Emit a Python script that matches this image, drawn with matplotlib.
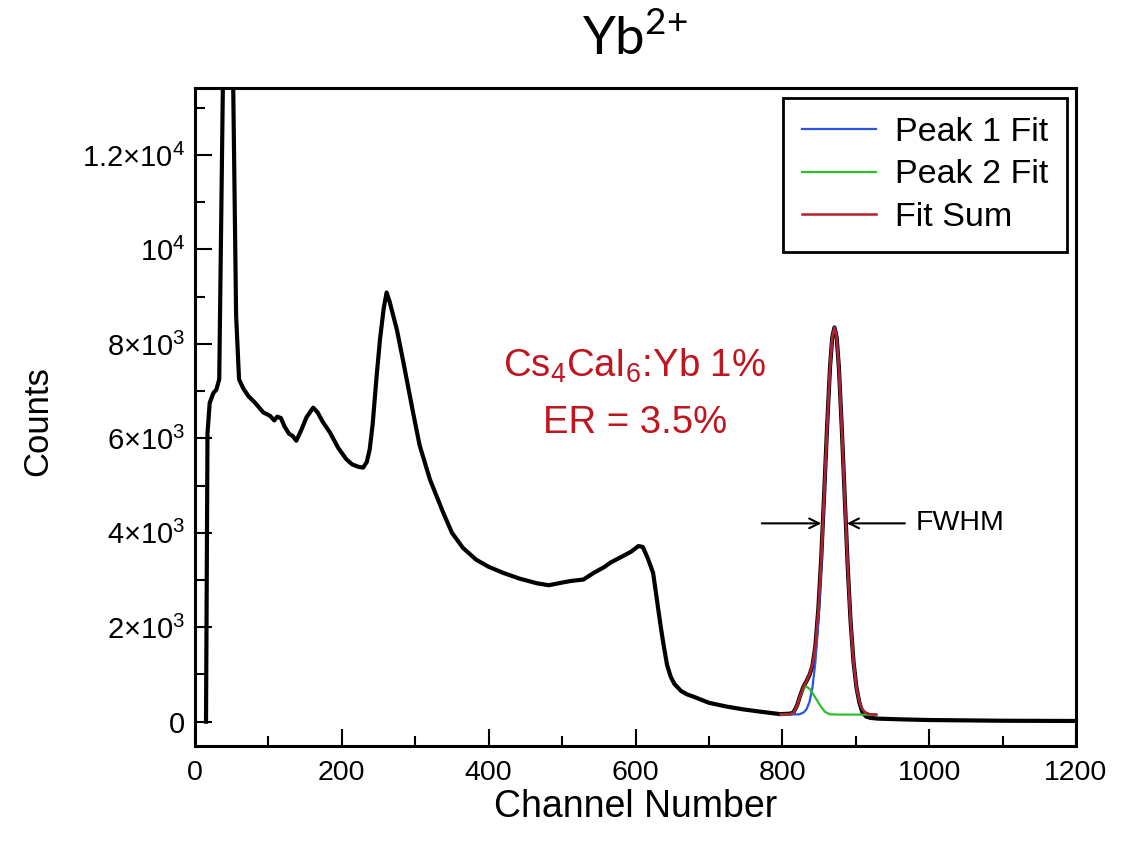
import matplotlib
matplotlib.use("Agg")
import matplotlib.pyplot as plt
from matplotlib.ticker import MultipleLocator

spec_ch = [15, 16, 17, 20, 25, 29, 33, 38, 45, 52, 56, 60, 66, 73, 82, 93, 102, 108,
           112, 117, 122, 128, 133, 138, 144, 152, 161, 167, 174, 184, 195, 206, 214,
           222, 229, 234, 238, 242, 247, 252, 257, 261, 265, 270, 275, 284, 297, 306,
           320, 338, 350, 365, 383, 400, 420, 442, 466, 482, 498, 512, 529, 543, 558,
           566, 582, 594, 604, 610, 617, 624, 629, 634, 638, 643, 648, 653, 662, 670,
           679, 700, 724, 747, 770, 797, 810, 815, 820, 824, 829, 833, 837, 841, 845,
           849, 853, 857, 861, 865, 868, 871, 874, 877, 881, 885, 889, 893, 897, 901,
           905, 909, 914, 920, 930, 960, 1000, 1100, 1200]
spec_counts = [0, 3000, 6100, 6750, 6960, 7030, 7250, 13500, 20000, 13500, 8600, 7250,
               7050, 6890, 6750, 6550, 6480, 6380, 6460, 6430, 6250, 6100, 6050, 5950,
               6150, 6450, 6650, 6550, 6350, 6120, 5800, 5560, 5450, 5400, 5380, 5500,
               5770, 6300, 7250, 8100, 8750, 9090, 8900, 8600, 8300, 7600, 6550, 5850,
               5130, 4430, 4000, 3680, 3430, 3280, 3150, 3030, 2930, 2890, 2940, 2980,
               3010, 3150, 3280, 3370, 3500, 3600, 3720, 3700, 3450, 3150, 2600, 2050,
               1650, 1200, 950, 800, 650, 580, 530, 400, 320, 260, 212, 160, 170, 190,
               340, 540, 750, 860, 990, 1180, 1600, 2380, 3470, 4840, 6260, 7520, 8140,
               8350, 8140, 7510, 6210, 4750, 3300, 2110, 1260, 720, 400, 200, 110, 80,
               65, 50, 35, 20, 15]

# fit curves
p1_ch = [798, 823, 829, 833, 837, 841, 845, 849, 853, 857, 861, 865, 868, 871, 874,
         877, 881, 885, 889, 893, 897, 901, 905, 909, 913, 919, 928]
p1_counts = [150, 155, 195, 265, 420, 720, 1260, 2110, 3300, 4750, 6210, 7510, 8140,
             8350, 8140, 7510, 6210, 4750, 3300, 2110, 1260, 720, 420, 265, 195, 158, 150]

p2_ch = [798, 810, 815, 820, 824, 829, 833, 838, 843, 847, 852, 858, 865, 880, 905, 928]
p2_counts = [150, 160, 180, 330, 530, 700, 745, 680, 560, 460, 330, 210, 155, 150,
             150, 150]

sum_ch = [798, 810, 815, 820, 824, 829, 833, 837, 841, 845, 849, 853, 857, 861, 865,
          868, 871, 874, 877, 881, 885, 889, 893, 897, 901, 905, 909, 913, 919, 928]
sum_counts = [150, 160, 185, 335, 535, 745, 860, 1000, 1200, 1600, 2380, 3470, 4840,
              6260, 7515, 8140, 8350, 8140, 7510, 6210, 4750, 3300, 2110, 1260, 720,
              420, 265, 195, 158, 150]

y_ticks = [0, 2000, 4000, 6000, 8000, 10000, 12000]
y_tick_labels = ["0", r"$\mathregular{2{\times}10^{3}}$", r"$\mathregular{4{\times}10^{3}}$",
                 r"$\mathregular{6{\times}10^{3}}$", r"$\mathregular{8{\times}10^{3}}$",
                 r"$\mathregular{10^{4}}$", r"$\mathregular{1.2{\times}10^{4}}$"]

W, H = 1143, 844
plt.rcParams["font.family"] = ["Liberation Sans", "DejaVu Sans"]

fig = plt.figure(figsize=(W / 100, H / 100), dpi=100)
ax = fig.add_axes([195 / W, 1 - 746 / H, 881 / W, 658 / H])

ax.plot(spec_ch, spec_counts, color="black", lw=3.0, solid_joinstyle="round")
ax.plot(p1_ch, p1_counts, color="#2a55e0", lw=1.6, label="Peak 1 Fit")
ax.plot(p2_ch, p2_counts, color="#2cbf2c", lw=1.6, label="Peak 2 Fit")
ax.plot(sum_ch, sum_counts, color="#b3202a", lw=1.8, label="Fit Sum")

ax.set_xlim(0, 1200)
ax.set_ylim(-515, 13420)
ax.xaxis.set_major_locator(MultipleLocator(200))
ax.xaxis.set_minor_locator(MultipleLocator(100))
ax.set_yticks(y_ticks)
ax.set_yticklabels(y_tick_labels)
ax.yaxis.set_minor_locator(MultipleLocator(1000))

ax.tick_params(which="both", direction="in", width=1.5, top=False, right=False)
ax.tick_params(which="major", length=12)
ax.tick_params(which="minor", length=7)
ax.tick_params(axis="x", labelsize=20.5, pad=10)
ax.tick_params(axis="y", labelsize=21, pad=7)
for sp in ax.spines.values():
    sp.set_linewidth(2.2)

leg = ax.legend(loc="upper right", bbox_to_anchor=(0.99, 0.985), borderaxespad=0,
                fontsize=24.5, frameon=True, fancybox=False, borderpad=0.55,
                handlelength=2.2, handletextpad=0.55, labelspacing=0.35)
leg.get_frame().set_edgecolor("black")
leg.get_frame().set_linewidth(2.0)
leg.get_frame().set_alpha(1)

red = "#c0141e"
ax.text(599, 7310, r"Cs$_{\mathregular{4}}$CaI$_{\mathregular{6}}$:Yb 1%", color=red,
        fontsize=27.5, ha="center", va="baseline")
ax.text(599, 6118, "ER = 3.5%", color=red, fontsize=27.5, ha="center", va="baseline")

arrow = dict(arrowstyle="->,head_length=0.7,head_width=0.35", lw=1.5, color="black",
             shrinkA=0, shrinkB=0)
ax.annotate("", xy=(853, 4200), xytext=(772, 4200), arrowprops=arrow)
ax.annotate("", xy=(888, 4200), xytext=(967, 4200), arrowprops=arrow)
ax.text(981, 4200, "FWHM", fontsize=20.5, ha="left", va="center")

fig.text(636 / W, 1 - 817 / H, "Channel Number", fontsize=27, ha="center",
         va="baseline")
fig.text(38 / W, 1 - 421 / H, "Counts", fontsize=25, rotation=90,
         ha="center", va="center")
fig.text(635 / W, 1 - 55 / H, r"Yb$^{\mathregular{2{+}}}$", fontsize=38, family="Lato",
         ha="center", va="baseline")

fig.savefig("out.png", dpi=100)
